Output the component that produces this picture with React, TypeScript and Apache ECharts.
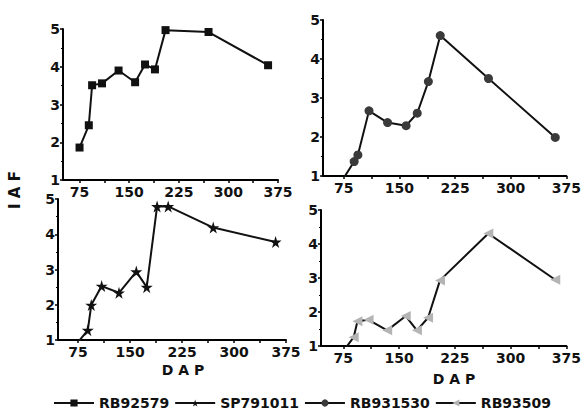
import React, { useEffect, useRef } from "react";
import * as echarts from "echarts";

// Days after planting (DAP) sampled in each panel
const dap = [75, 89, 94, 109, 134, 159, 174, 189, 205, 270, 360];
// Leaf area index (IAF) per variety
const rb92579 = [1.86, 2.45, 3.51, 3.56, 3.9, 3.59, 4.06, 3.93, 4.97, 4.92, 4.04];
const rb931530 = [0.95, 1.37, 1.54, 2.67, 2.37, 2.29, 2.61, 3.42, 4.6, 3.5, 1.99];
const sp791011 = [0.94, 1.28, 1.99, 2.53, 2.34, 2.94, 2.5, 4.79, 4.79, 4.19, 3.78];
const rb93509 = [0.85, 1.26, 1.73, 1.77, 1.46, 1.88, 1.46, 1.83, 2.93, 4.31, 2.95];

const xLabels = [75, 150, 225, 300, 375];
const xTickMarks = [75, 112.5, 150, 187.5, 225, 262.5, 300, 337.5, 375];
const names = ["RB92579", "SP791011", "RB931530", "RB93509"];

const STAR =
  "path://M50,0 L61,35 L98,35 L68,57 L79,91 L50,70 L21,91 L32,57 L2,35 L39,35 Z";

const FONT = "DejaVu Sans";

export default function App() {
  const ref = useRef<HTMLDivElement>(null);
  useEffect(() => {
    if (!ref.current) return;
    const chart = echarts.init(ref.current, null, { renderer: "svg" });

    const grids = [
      { left: 63, top: 29, width: 215, height: 151 },
      { left: 323, top: 20, width: 244, height: 156 },
      { left: 58, top: 199, width: 228, height: 141 },
      { left: 321, top: 210, width: 248, height: 136 },
    ];
    const xMins = [50, 47, 46, 45];

    const axisLine = { show: true, lineStyle: { color: "#000", width: 2 } };
    const labelStyle = {
      color: "#111",
      fontFamily: FONT,
      fontWeight: "bold" as const,
      fontSize: 14,
    };

    const xAxis = grids.map((_, i) => ({
      type: "value",
      gridIndex: i,
      min: xMins[i],
      max: 375,
      axisLine,
      splitLine: { show: false },
      axisTick: {
        show: true,
        customValues: xTickMarks,
        length: 3,
        lineStyle: { color: "#000", width: 1.5 },
      },
      axisLabel: { ...labelStyle, customValues: xLabels, margin: 5 },
    }));

    const yAxis = grids.map((_, i) => ({
      type: "value",
      gridIndex: i,
      min: 1,
      max: 5,
      interval: 1,
      axisLine,
      splitLine: { show: false },
      axisTick: { show: true, length: 3, lineStyle: { color: "#000", width: 1.5 } },
      minorTick: { show: true, splitNumber: 2, length: 2, lineStyle: { color: "#000", width: 1 } },
      axisLabel: { ...labelStyle, margin: 3 },
    }));

    const lineStyle = { color: "#111", width: 2 };
    const pair = (vals: number[]) => dap.map((d, k) => [d, vals[k]]);

    const series = [
      {
        name: names[0],
        type: "line",
        xAxisIndex: 0,
        yAxisIndex: 0,
        data: pair(rb92579),
        symbol: "rect",
        symbolSize: 8,
        itemStyle: { color: "#111" },
        lineStyle,
      },
      {
        name: names[1],
        type: "line",
        xAxisIndex: 2,
        yAxisIndex: 2,
        data: pair(sp791011),
        symbol: STAR,
        symbolSize: 12,
        itemStyle: { color: "#111" },
        lineStyle,
      },
      {
        name: names[2],
        type: "line",
        xAxisIndex: 1,
        yAxisIndex: 1,
        data: pair(rb931530),
        symbol: "circle",
        symbolSize: 9,
        itemStyle: { color: "#3a3a3a" },
        lineStyle,
      },
      {
        name: names[3],
        type: "line",
        xAxisIndex: 3,
        yAxisIndex: 3,
        data: pair(rb93509),
        symbol: "triangle",
        symbolRotate: 90,
        symbolSize: 10,
        itemStyle: { color: "#b4b4b4" },
        lineStyle,
      },
    ].map((s) => ({ ...s, clip: true, showSymbol: true, z: 3 }));

    const titleStyle = {
      fill: "#111",
      font: `bold 14px "${FONT}"`,
      textAlign: "center",
      textVerticalAlign: "middle",
    };

    chart.setOption({
      animation: false,
      backgroundColor: "#fff",
      grid: grids.map((g) => ({ ...g, containLabel: false })),
      xAxis,
      yAxis,
      series,
      legend: {
        data: names,
        left: 48,
        top: 391,
        itemWidth: 40,
        itemHeight: 9,
        itemGap: 5,
        textStyle: { ...labelStyle, fontSize: 14 },
      },
      graphic: [
        {
          type: "text",
          x: 15,
          y: 190,
          rotation: Math.PI / 2,
          style: { ...titleStyle, font: `bold 15px "${FONT}"`, text: "I A F" },
        },
        {
          type: "text",
          x: 183,
          y: 370,
          style: { ...titleStyle, text: "D A P" },
        },
        {
          type: "text",
          x: 454,
          y: 379,
          style: { ...titleStyle, text: "D A P" },
        },
      ],
    });
    return () => chart.dispose();
  }, []);

  return (
    <div
      ref={ref}
      style={{ position: "fixed", left: 0, top: 0, width: 584, height: 410 }}
    />
  );
}
